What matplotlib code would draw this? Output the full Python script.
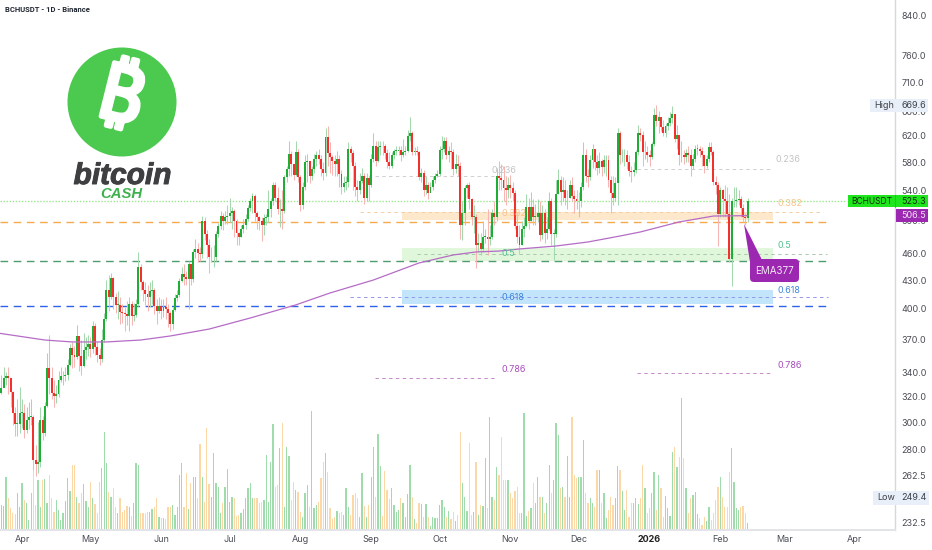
import matplotlib
matplotlib.use("Agg")
import matplotlib.pyplot as plt
import matplotlib.patheffects as pe
from matplotlib.patches import FancyBboxPatch, Polygon, Rectangle, Circle

W, H = 932, 550
# day index: 0 = 1 Apr 2025
first_day = -10
first_open = 320
closes = [
323,327,336,337,336,324,307,299,299,307,
307,294,302,304,304,273,270,271,302,292,
313,344,336,323,321,322,334,337,337,338,
347,362,356,354,373,355,346,360,363,366,
361,383,363,356,352,370,390,420,412,432,
412,404,404,397,396,395,393,405,393,394,
405,445,428,420,415,412,419,420,403,398,
403,398,402,400,396,385,399,411,414,429,
437,434,431,448,431,462,466,461,460,500,
484,470,456,456,456,483,493,506,500,505,
506,510,513,500,485,480,490,495,502,516,
525,532,510,505,500,495,503,505,515,525,
548,530,515,515,513,558,570,592,578,562,
595,558,520,545,580,582,560,570,585,590,
585,570,565,618,593,588,581,578,585,563,
545,550,552,600,593,575,545,540,553,560,
530,557,547,585,604,582,603,605,604,593,
580,575,590,597,597,598,590,595,597,620,
625,595,596,595,558,565,540,548,536,545,
555,560,563,598,600,612,590,597,595,570,
578,575,495,510,543,548,528,505,505,470,
472,466,480,480,478,480,510,505,560,557,
555,543,540,548,543,536,494,480,470,490,
494,518,500,518,505,505,510,482,510,485,
490,525,484,484,535,555,538,540,529,529,
548,532,528,525,525,545,591,560,558,583,
600,580,572,582,573,583,583,555,536,530,
550,625,590,590,590,580,567,566,568,595,
625,622,595,595,590,587,608,653,643,650,
634,625,635,640,648,655,615,622,590,590,
587,593,590,575,585,600,600,597,590,574,
585,603,595,552,548,508,540,528,525,509,
454,525,525,527,528,517,505,503,525.3]
highs = [
330,338,345,341,345,336,325,312,318,328,
318,314,312,316,318,306,283,300,312,305,
316,358,374,345,334,330,342,345,342,345,
352,366,368,364,384,372,370,376,372,374,
372,388,386,368,362,380,396,430,436,438,
434,416,418,412,405,402,408,412,408,406,
410,462,448,430,428,425,428,430,422,410,
412,410,410,412,405,398,402,415,420,432,
445,448,440,452,448,465,478,472,468,506,
505,488,478,468,470,487,497,512,510,512,
520,529,518,515,502,486,495,502,508,520,
530,537,535,512,506,505,508,508,540,530,
552,552,545,528,540,562,574,612,596,578,
612,600,562,552,590,592,582,575,592,596,
600,590,580,632,635,610,590,590,596,590,
568,560,560,610,605,598,580,555,565,572,
565,565,562,592,625,612,612,612,612,608,
600,595,595,600,605,605,605,615,605,630,
651,628,602,605,597,572,568,560,552,552,
560,565,568,605,620,618,618,605,610,600,
592,590,580,525,548,550,552,530,520,508,
485,485,500,490,515,495,515,525,572,581,
578,575,560,558,562,552,540,510,495,500,
505,535,530,538,528,522,528,525,520,515,
505,538,530,490,555,570,560,558,555,540,
555,558,540,540,538,552,610,600,570,590,
608,600,590,595,585,590,590,590,560,560,
558,632,628,600,600,598,590,575,580,598,
637,632,628,612,605,598,610,665,669.6,660,
650,645,640,650,658,668,655,638,618,612,
598,600,605,600,592,606,608,605,602,590,
590,610,610,598,560,552,545,542,548,545,
535,530,545,545,540,533,522,510,530]
lows = [
318,322,330,330,322,312,298,290,290,292,
296,288,292,295,298,266,262,264,268,287,
290,312,322,318,312,315,320,332,330,333,
334,346,344,345,352,342,338,345,352,355,
354,358,356,350,347,350,368,388,398,410,
400,396,390,385,386,378,384,378,384,388,
392,403,420,408,404,398,402,405,395,385,
396,390,392,390,382,378,380,398,408,412,
428,425,425,400,425,428,455,450,452,455,
476,455,438,450,445,452,480,490,488,496,
496,498,490,480,470,470,480,485,490,500,
512,510,500,490,488,475,482,495,498,505,
520,525,508,492,490,510,552,560,560,555,
560,552,512,515,540,552,550,555,565,575,
578,560,555,560,575,565,562,560,560,545,
535,538,540,545,580,540,532,525,535,550,
522,525,525,545,580,575,580,590,590,585,
572,570,572,585,590,590,582,588,590,595,
612,590,590,590,555,552,532,535,528,538,
540,550,558,560,585,595,585,580,570,562,
565,560,478,476,495,530,515,495,485,444,
462,458,462,472,458,470,478,495,500,540,
540,525,520,530,530,525,490,472,460,470,
480,492,490,500,495,495,498,475,478,472,
478,488,470,453,480,535,520,525,520,515,
530,525,510,515,505,518,540,552,545,555,
572,568,562,565,560,565,560,545,510,520,
525,520,578,580,575,570,560,552,560,565,
590,612,575,585,580,575,585,605,635,625,
628,620,618,630,635,640,610,600,576,580,
578,580,580,560,570,580,590,588,575,564,
572,580,590,548,535,469,505,505,505,502,
450,424,518,518,520,505,500,495,498]
volumes = [
45,75,72,160,95,65,50,48,110,68,140,90,82,30,110,200,75,150,70,150,152,80,165,95,55,90,60,30,50,88,
155,118,195,195,100,80,110,138,88,68,145,95,78,50,145,185,295,200,115,100,125,70,50,95,55,60,72,70,42,82,
200,195,50,52,50,55,55,62,70,95,38,35,35,32,68,70,75,45,70,165,200,70,172,62,140,160,160,95,258,158,
85,305,138,100,232,140,130,50,80,130,182,85,100,95,42,45,52,62,95,125,142,95,95,95,80,85,90,225,85,205,
318,130,135,245,322,70,250,222,90,145,120,115,55,40,112,135,68,358,65,75,85,155,205,232,175,65,32,40,58,52,
55,45,125,68,45,105,112,95,40,172,72,40,75,160,250,100,288,192,42,178,120,92,125,75,55,60,
95,82,40,108,195,98,33,22,80,78,40,78,40,12,40,35,35,75,90,70,40,58,32,55,28,46,295,140,100,58,
262,45,55,205,45,75,72,215,65,340,100,90,190,165,280,150,150,150,110,95,118,130,50,50,350,42,58,65,140,80,
158,100,100,50,80,195,112,150,320,285,125,128,100,222,100,340,165,155,160,160,270,110,80,95,80,70,180,180,80,112,
35,60,98,75,95,192,180,118,60,120,40,80,80,95,78,95,195,125,50,65,110,175,60,165,125,40,102,65,42,235,
250,190,220,395,215,125,50,95,105,115,48,35,15,40,28,68,30,52,90,130,160,100,70,70,175,245,145,65,60,70,
72,50,20]

price_ticks = [840,760,710,660,620,580,540,500,460,430,400,370,340,320,300,280,262.5,247.5,232.5]
price_labels = ["840.0","760.0","710.0","660.0","620.0","580.0","540.0","500.0","460.0","430.0","400.0",
                "370.0","340.0","320.0","300.0","280.0","262.5","247.5","232.5"]
month_days = [0,30,61,91,122,153,183,214,244,275,306,334,365]
month_labels = ["Apr","May","Jun","Jul","Aug","Sep","Oct","Nov","Dec","2026","Feb","Mar","Apr"]

ema_days = [-10,10,22,37,52,65,82,100,120,135,154,174,189,199,209,218,234,248,262,271,288,303,318]
ema_vals = [376,369.6,367.8,367.8,369.6,373.4,380,390.8,404,416.4,430.3,449.3,458.5,462,463,465.5,469,473.8,481,486,498.5,506,506.5]

support_levels = [498, 452, 403]
support_colors = ["#f7a94e", "#4f9d6e", "#2f62e8"]
zone_bounds = [(501, 511.5), (451, 466.7), (405, 419.6)]
zone_colors = ["#fde8cc", "#e0f7db", "#c2e5fb"]

fib_segments = [
    ("#cfcfcf", 375, 505, 560),
    ("#cfcfcf", 637, 770, 570),
    ("#f3cfa4", 360, 823, 511),
    ("#a8c9b0", 417, 827, 460),
    ("#9497ea", 350, 828, 412),
    ("#c58ac9", 375, 497, 336),
    ("#c58ac9", 637, 770, 340),
]

n = len(closes)
assert n == len(highs) == len(lows) == len(volumes), (n, len(highs), len(lows), len(volumes))
days = [first_day + i for i in range(n)]
opens = [first_open] + closes[:-1]

plt.rcParams["font.family"] = ["Inter", "DejaVu Sans"]
fig = plt.figure(figsize=(W / 100, H / 100), dpi=100)
ax = fig.add_axes([0, 20 / H, 895 / W, 530 / H])
ax.set_yscale("log")
ax.set_ylim(228.4, 874.7)
ax.set_xlim((0 - 22) / 2.282, (895 - 22) / 2.282)
ax.minorticks_off()

def d_of(px):
    return (px - 22) / 2.282

UP, DN = "#1fae35", "#f2302e"
UPW, DNW = "#a4d8ae", "#f7b5b3"
FS = 6.5

vx = ax.twinx()
vx.set_ylim(0, 530 * 3)
vx.set_zorder(1)
ax.set_zorder(2)
ax.patch.set_alpha(0)
vx.axis("off")
for d, o, c, v in zip(days, opens, closes, volumes):
    vx.bar(d, v, width=0.55, color="#9fdcab" if c >= o else "#fbd8a5", linewidth=0)

for (lo, hi), col in zip(zone_bounds, zone_colors):
    ax.fill_between([d_of(402), d_of(773)], lo, hi, color=col, linewidth=0, zorder=1)
for lvl, col in zip(support_levels, support_colors):
    ax.plot([d_of(0), d_of(828)], [lvl, lvl], color=col, lw=1.0, dashes=(5.5, 4), zorder=2)
ax.plot([d_of(0), d_of(845)], [525.3, 525.3], color="#9ae88f", lw=1.0, ls=(0, (1, 1.2)), zorder=2)
for col, x0, x1, val in fib_segments:
    ax.plot([d_of(x0), d_of(x1)], [val, val], color=col, lw=0.7, dashes=(3.5, 3.5), zorder=2)

for d, o, h, l, c in zip(days, opens, highs, lows, closes):
    up = c >= o
    ax.vlines(d, l, h, color=UPW if up else DNW, lw=0.75, zorder=4)
    ax.bar(d, abs(c - o) if c != o else 0.6, bottom=min(o, c), width=0.85,
           color=UP if up else DN, linewidth=0, zorder=5)
ax.plot(ema_days, ema_vals, color="#b56cc6", lw=0.9, zorder=6)

for s in ["top", "left"]:
    ax.spines[s].set_visible(False)
ax.spines["right"].set_color("#d5d7dc")
ax.spines["right"].set_linewidth(1)
ax.spines["bottom"].set_color("#e3e4e8")
ax.spines["bottom"].set_linewidth(1.4)
ax.yaxis.tick_right()
ax.set_yticks(price_ticks)
ax.set_yticklabels(price_labels)
ax.tick_params(axis="y", length=0, pad=4.5, labelsize=FS, labelcolor="#4a4d55", which="both")
ax.set_xticks(month_days)
ax.set_xticklabels(month_labels)
ax.tick_params(axis="x", length=0, pad=3.8, labelsize=FS, labelcolor="#4a4d55")
for t in ax.get_xticklabels():
    if t.get_text() == "2026":
        t.set_fontweight("bold")
        t.set_color("#222222")

ov = fig.add_axes([0, 0, 1, 1], zorder=10)
ov.set_xlim(0, W)
ov.set_ylim(H, 0)
ov.axis("off")
ov.patch.set_alpha(0)

ov.text(5, 10, "BCHUSDT - 1D - Binance", fontsize=5.5, fontweight="bold",
        family=["Roboto", "DejaVu Sans"], color="#222831", va="center")

ov.add_patch(Circle((122, 102), 54.5, color="#4bca4f", lw=0, zorder=1))
ov.text(120, 100, "\u20bf", fontsize=56, fontweight="bold",
        family=["Noto Sans", "Inter", "Roboto", "Open Sans", "Lato"], color="white",
        rotation=-14, ha="center", va="center", zorder=2,
        path_effects=[pe.withStroke(linewidth=3.2, foreground="white")])
ov.text(122.5, 184, "bitcoin", fontsize=21.5, fontweight="bold", style="italic",
        family=["Liberation Sans", "DejaVu Sans"], color="#3e3f41", ha="center", va="baseline",
        path_effects=[pe.withStroke(linewidth=0.7, foreground="#3e3f41")])
ov.text(121.5, 198, "CASH", fontsize=10.7, fontweight="bold", style="italic",
        family=["Liberation Sans", "DejaVu Sans"], color="#3fb24f", ha="center", va="baseline")

labels = [
    (492, 170.5, "0.236", "#c4c4c4"), (776, 160, "0.236", "#c4c4c4"),
    (502, 214, "0.382", "#f7c48c"), (777, 204, "0.382", "#f7c48c"),
    (502, 254, "0.5", "#55bd90"), (778, 245, "0.5", "#55bd90"),
    (501, 298, "0.618", "#3f84dc"), (778, 290.5, "0.618", "#3f84dc"),
    (502, 370, "0.786", "#a64dbb"), (777, 366, "0.786", "#a64dbb"),
]
for x, y, s, c in labels:
    ov.text(x, y, s, color=c, fontsize=FS, va="center", ha="left", zorder=3)

ov.add_patch(Polygon([(744, 224), (750, 262), (763, 262)], color="#9c27b0", lw=0, zorder=4))
box = FancyBboxPatch((753, 262), 43, 17, boxstyle="round,pad=3,rounding_size=4", lw=0,
                     facecolor="#9c27b0", zorder=4)
ov.add_patch(box)
ov.text(774.5, 270.5, "EMA377", color="#f3e5f5", fontsize=7.1, ha="center", va="center", zorder=5)

ov.add_patch(Rectangle((848, 195), 80, 12, color="#1fe61c", lw=0, zorder=4))
ov.plot([895, 895], [195, 207], color="#14c912", lw=0.6, zorder=5)
ov.text(851, 201, "BCHUSDT", color="#142a12", fontsize=6.1, va="center", zorder=6)
ov.text(901, 201, "525.3", color="#142a12", fontsize=FS, va="center", zorder=6)
ov.add_patch(Rectangle((896, 209), 32, 13, color="#9c27b0", lw=0, zorder=4))
ov.text(901, 215.5, "506.5", color="#f3e5f5", fontsize=FS, va="center", zorder=6)
for x0, x1, y0, y1, name, val in [(870, 928, 99, 112, "High", "669.6"), (873, 929, 491, 505, "Low", "249.4")]:
    ov.add_patch(Rectangle((x0, y0), x1 - x0, y1 - y0, color="#e9eff8", lw=0, zorder=4))
    ov.text(x0 + 4, (y0 + y1) / 2, name, color="#3c4048", fontsize=FS, va="center", zorder=6)
    ov.text(901, (y0 + y1) / 2, val, color="#3c4048", fontsize=FS, va="center", zorder=6)

fig.savefig("out.png", dpi=100, facecolor="white")
